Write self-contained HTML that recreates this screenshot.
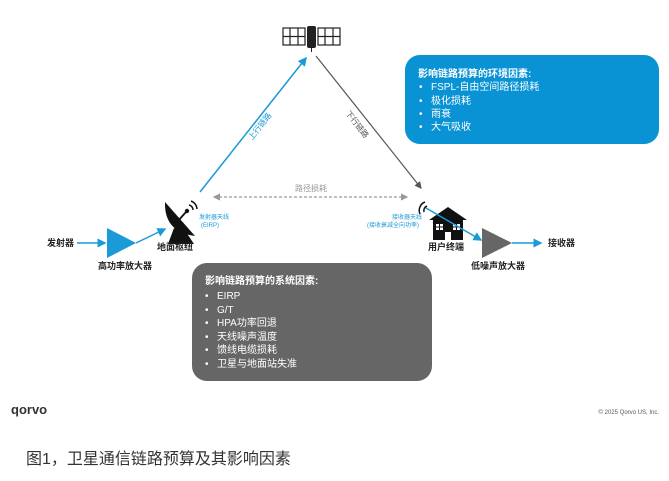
<!DOCTYPE html>
<html><head><meta charset="utf-8"><style>
body{margin:0;background:#fff;width:669px;height:476px;overflow:hidden;font-family:"Liberation Sans","Noto Sans CJK SC",sans-serif}
</style></head><body>
<svg width="669" height="476" viewBox="0 0 669 476" xmlns="http://www.w3.org/2000/svg" font-family="Liberation Sans, Noto Sans CJK SC, sans-serif">
<defs>
<marker id="ab" markerWidth="6" markerHeight="6" refX="5" refY="3" orient="auto"><path d="M0,0 L6,3 L0,6 z" fill="#1a9ad6"/></marker>
<marker id="ag" markerWidth="6" markerHeight="6" refX="5" refY="3" orient="auto"><path d="M0,0 L6,3 L0,6 z" fill="#555"/></marker>
<marker id="agl" markerWidth="6" markerHeight="6" refX="5" refY="3" orient="auto"><path d="M0,0 L6,3 L0,6 z" fill="#999"/></marker>
<marker id="agr" markerWidth="6" markerHeight="6" refX="1" refY="3" orient="auto"><path d="M6,0 L0,3 L6,6 z" fill="#999"/></marker>
</defs>
<g stroke="#222" stroke-width="1.2" fill="#fff">
<rect x="283" y="28" width="22" height="17"/><rect x="318" y="28" width="22" height="17"/>
<path d="M290,28V45M298,28V45M283,36.5H305M325,28V45M333,28V45M318,36.5H340" />
</g>
<rect x="307" y="26" width="9" height="22" rx="2" fill="#222"/>
<line x1="311.5" y1="48" x2="311.5" y2="52" stroke="#222"/>
<line x1="200" y1="192" x2="306" y2="58" stroke="#1a9ad6" stroke-width="1.5" marker-end="url(#ab)"/>
<line x1="316" y1="56" x2="421" y2="188" stroke="#555" stroke-width="1.2" marker-end="url(#ag)"/>
<line x1="214" y1="197" x2="407" y2="197" stroke="#999" stroke-width="1.2" stroke-dasharray="3,2" marker-end="url(#agl)" marker-start="url(#agr)"/>
<text x="311" y="191" font-size="8" fill="#999" text-anchor="middle">路径损耗</text>
<text transform="translate(262,128) rotate(-52)" font-size="8" fill="#1a9ad6" text-anchor="middle">上行链路</text>
<text transform="translate(355,126) rotate(52)" font-size="8" fill="#555" text-anchor="middle">下行链路</text>
<text x="47" y="246" font-size="9" font-weight="bold" fill="#222">发射器</text>
<line x1="77" y1="243" x2="105" y2="243" stroke="#1a9ad6" stroke-width="1.5" marker-end="url(#ab)"/>
<path d="M107,228 L136,243 L107,258 z" fill="#1a9ad6"/>
<line x1="136" y1="243" x2="165" y2="229" stroke="#1a9ad6" stroke-width="1.5" marker-end="url(#ab)"/>
<text x="98" y="269" font-size="9" font-weight="bold" fill="#222">高功率放大器</text>
<path d="M165,202 Q164,232 195,236 Z" fill="#111"/>
<path d="M174,228 L168,244 L194,244 L186,232 z" fill="#111"/>
<line x1="177" y1="222" x2="186" y2="212" stroke="#111" stroke-width="1.8"/>
<circle cx="187" cy="211" r="2.2" fill="#111"/>
<path d="M189,205 a5,5 0 0 1 4,5 M191,201 a9,9 0 0 1 6,8" stroke="#111" stroke-width="1.5" fill="none"/>
<text x="157" y="250" font-size="9" font-weight="bold" fill="#222">地面枢纽</text>
<text x="199" y="219" font-size="6" fill="#1a9ad6">发射器天线</text>
<text x="201" y="227" font-size="6" fill="#1a9ad6">(EIRP)</text>
<path d="M429,220 L448,207 L467,220 z" fill="#111"/>
<rect x="433" y="219" width="30" height="21" fill="#111"/>
<rect x="436" y="224" width="7" height="6" fill="#fff"/><rect x="453" y="224" width="7" height="6" fill="#fff"/>
<path d="M436,227H443M439.5,224V230M453,227H460M456.5,224V230" stroke="#111" stroke-width="1"/>
<rect x="445" y="232" width="6" height="8" fill="#fff"/>
<path d="M424,212 a5,5 0 0 1 3,-6 M420,214 a9,9 0 0 1 5,-12" stroke="#111" stroke-width="1.5" fill="none"/>
<line x1="426" y1="208" x2="481" y2="240" stroke="#1a9ad6" stroke-width="1.5" marker-end="url(#ab)"/>
<text x="422" y="219" font-size="6" fill="#1a9ad6" text-anchor="end">接收器天线</text>
<text x="419" y="227" font-size="6" fill="#1a9ad6" text-anchor="end">(接收衰减全向功率)</text>
<text x="428" y="250" font-size="9" font-weight="bold" fill="#222">用户终端</text>
<path d="M482,228 L512,243 L482,258 z" fill="#666"/>
<line x1="512" y1="243" x2="541" y2="243" stroke="#1a9ad6" stroke-width="1.5" marker-end="url(#ab)"/>
<text x="548" y="246" font-size="9" font-weight="bold" fill="#222">接收器</text>
<text x="471" y="269" font-size="9" font-weight="bold" fill="#222">低噪声放大器</text>
<rect x="405" y="55" width="254" height="89" rx="15" fill="#0a93d4"/>
<g fill="#fff" font-size="10">
<text x="418" y="77" font-weight="bold">影响链路预算的环境因素:</text>
<text x="419" y="90">•</text><text x="431" y="90">FSPL-自由空间路径损耗</text>
<text x="419" y="104">•</text><text x="431" y="104">极化损耗</text>
<text x="419" y="117">•</text><text x="431" y="117">雨衰</text>
<text x="419" y="130">•</text><text x="431" y="130">大气吸收</text>
</g>
<rect x="192" y="263" width="240" height="118" rx="15" fill="#666"/>
<g fill="#fff" font-size="10">
<text x="205" y="284" font-weight="bold">影响链路预算的系统因素:</text>
<text x="205" y="299">•</text><text x="217" y="299">EIRP</text>
<text x="205" y="313">•</text><text x="217" y="313">G/T</text>
<text x="205" y="326">•</text><text x="217" y="326">HPA功率回退</text>
<text x="205" y="340">•</text><text x="217" y="340">天线噪声温度</text>
<text x="205" y="353">•</text><text x="217" y="353">馈线电缆损耗</text>
<text x="205" y="367">•</text><text x="217" y="367">卫星与地面站失准</text>
</g>
<text x="11" y="414" font-size="13" font-weight="bold" fill="#333">qorvo</text>
<text x="659" y="414" font-size="6" fill="#555" text-anchor="end">© 2025 Qorvo US, Inc.</text>
<text x="26" y="464" font-size="16" fill="#333">图1，卫星通信链路预算及其影响因素</text>
</svg>
</body></html>
